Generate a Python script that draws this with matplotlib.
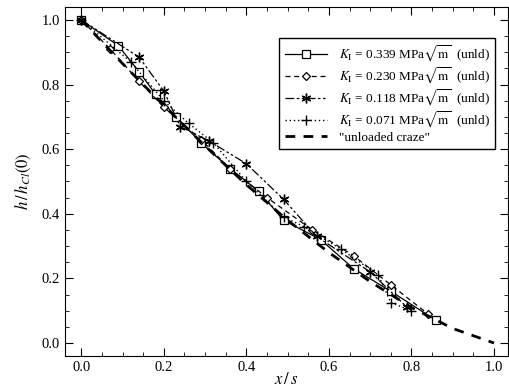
import matplotlib
matplotlib.use("Agg")
import matplotlib.pyplot as plt
from matplotlib.ticker import MultipleLocator

# K_I = 0.339 MPa sqrt(m), squares, solid
x_339 = [0.00, 0.09, 0.14, 0.18, 0.23, 0.29, 0.36, 0.43, 0.49, 0.58, 0.66, 0.75, 0.86]
y_339 = [1.00, 0.92, 0.84, 0.77, 0.70, 0.62, 0.54, 0.47, 0.38, 0.32, 0.23, 0.16, 0.07]
# K_I = 0.230, diamonds, dashed
x_230 = [0.00, 0.07, 0.14, 0.20, 0.29, 0.36, 0.45, 0.56, 0.66, 0.75, 0.84]
y_230 = [1.00, 0.91, 0.81, 0.73, 0.63, 0.54, 0.45, 0.35, 0.27, 0.18, 0.09]
# K_I = 0.118, asterisks, dash-dot
x_118 = [0.00, 0.14, 0.20, 0.24, 0.31, 0.40, 0.49, 0.57, 0.70, 0.79]
y_118 = [1.00, 0.885, 0.78, 0.67, 0.625, 0.555, 0.445, 0.33, 0.22, 0.11]
# K_I = 0.071, plus, dotted
x_071 = [0.00, 0.12, 0.20, 0.26, 0.32, 0.40, 0.49, 0.54, 0.63, 0.72, 0.75, 0.80]
y_071 = [1.00, 0.87, 0.75, 0.68, 0.62, 0.50, 0.39, 0.36, 0.29, 0.21, 0.125, 0.10]
# "unloaded craze"
x_unl = [0.0, 0.1, 0.2, 0.3, 0.4, 0.5, 0.6, 0.7, 0.8, 0.9, 1.0]
y_unl = [1.00, 0.865, 0.735, 0.61, 0.49, 0.38, 0.28, 0.19, 0.11, 0.045, 0.0]

plt.rcParams["font.family"] = ["Liberation Serif", "DejaVu Serif"]
plt.rcParams["mathtext.fontset"] = "stix"

fig = plt.figure(figsize=(5.1, 3.92), dpi=100)
ax = fig.add_axes([0.127, 0.092, 0.870, 0.890])

K = r"$K_\mathrm{I}$ = %s MPa$\sqrt{\mathrm{m}}$  (unld)"
ax.plot(x_339, y_339, "k-", lw=0.9, marker="s", ms=6, mfc="white", mec="k", mew=0.9, label=K % "0.339")
ax.plot(x_230, y_230, "k", ls=(0, (4, 3)), lw=0.9, marker="D", ms=4.5, mfc="white", mec="k", mew=0.9, label=K % "0.230")
ax.plot(x_118, y_118, "k", ls=(0, (7, 2, 2, 2, 2, 2)), lw=0.9, marker=(6, 2, 0), ms=7, mec="k", mew=1.0, label=K % "0.118")
ax.plot(x_071, y_071, "k", ls=(0, (1, 2)), lw=1.0, marker="+", ms=7, mec="k", mew=1.0, label=K % "0.071")
ax.plot(x_unl, y_unl, "k", ls=(0, (3.5, 3)), lw=2.0, label='"unloaded craze"')

ax.set_xlim(-0.04, 1.035)
ax.set_ylim(-0.04, 1.04)
ax.xaxis.set_major_locator(MultipleLocator(0.2))
ax.xaxis.set_minor_locator(MultipleLocator(0.05))
ax.yaxis.set_major_locator(MultipleLocator(0.2))
ax.yaxis.set_minor_locator(MultipleLocator(0.05))
ax.tick_params(which="both", direction="in", top=True, right=True, labelsize=10.5)
ax.tick_params(which="major", length=6)
ax.tick_params(which="minor", length=3)
ax.set_xlabel(r"$x\,/\,s$", fontsize=12, labelpad=-1)
ax.set_ylabel(r"$h\,/\,h_{Cl}(0)$", fontsize=12, labelpad=6)

leg = ax.legend(loc="upper right", bbox_to_anchor=(0.985, 0.93), fontsize=9.5, handlelength=3.2,
                fancybox=False, edgecolor="k", framealpha=1, borderpad=0.4, labelspacing=0.12,
                handletextpad=0.9)
leg.get_frame().set_linewidth(1.0)

fig.savefig("out.png", dpi=100)
